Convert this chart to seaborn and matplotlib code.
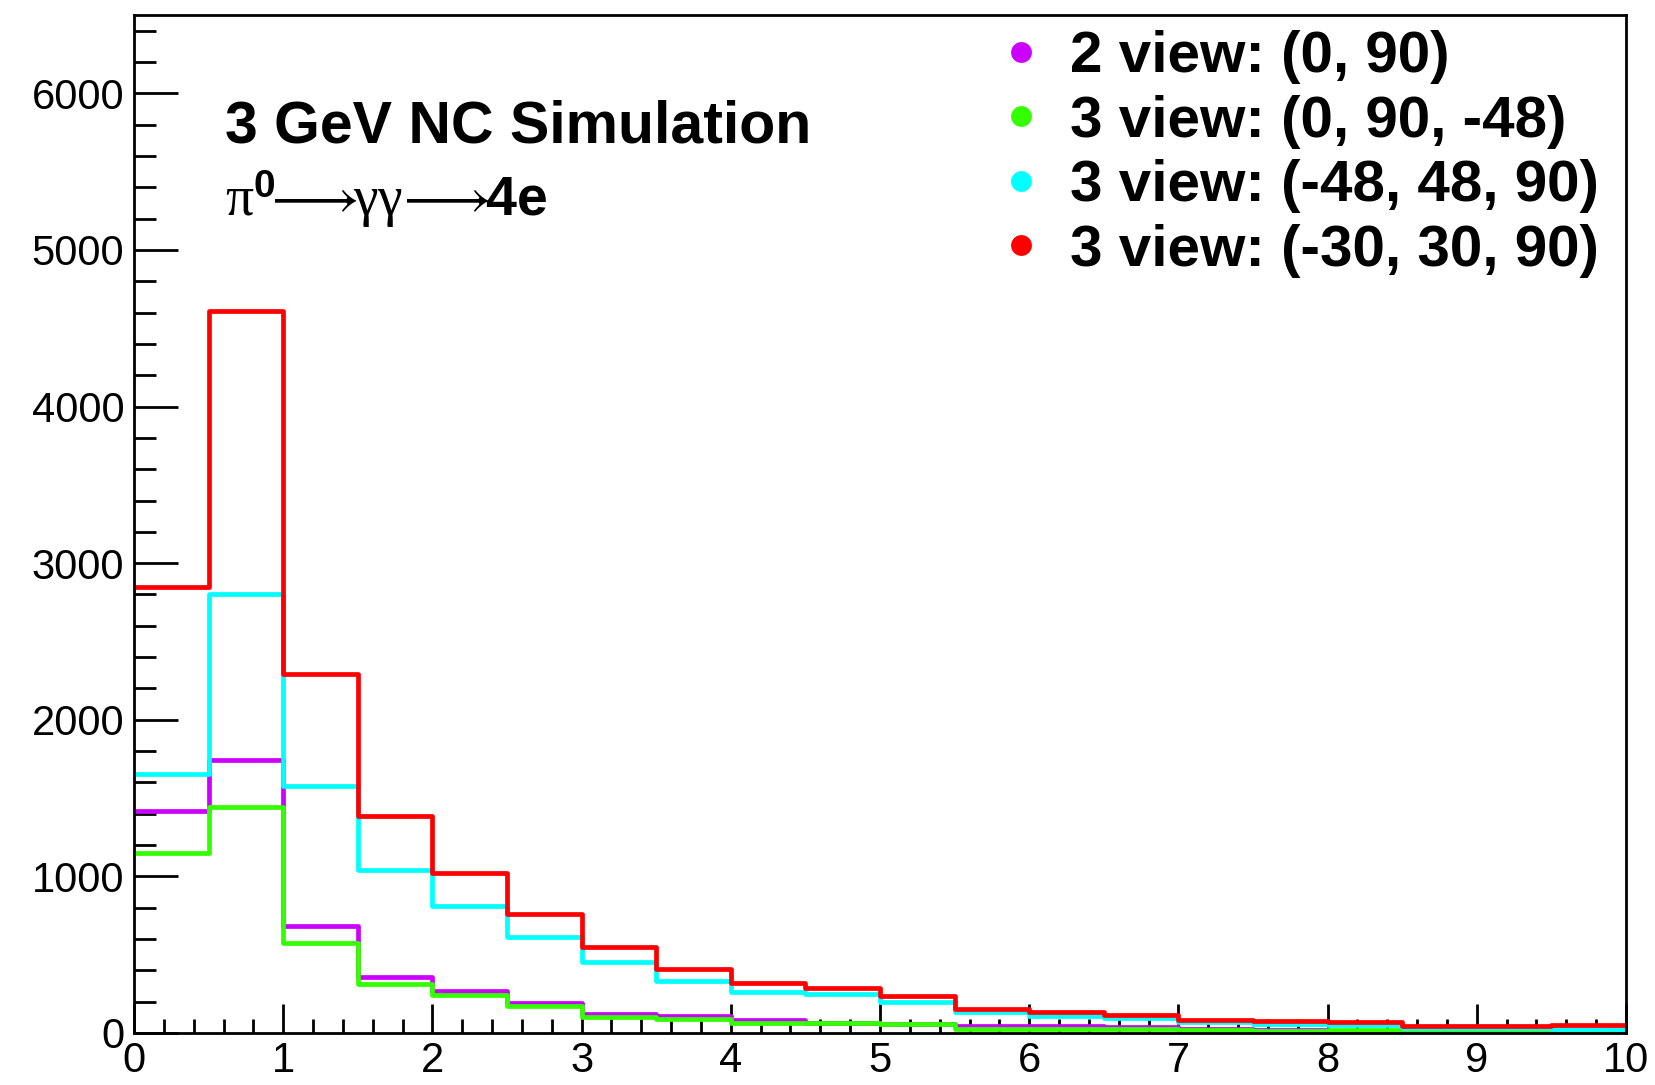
import numpy as np
import pandas as pd
import matplotlib
matplotlib.use('Agg')
import matplotlib.pyplot as plt
import seaborn as sns
from matplotlib.lines import Line2D
from matplotlib.ticker import MultipleLocator

# bin edges 0..10, width 0.5
edges = np.arange(0, 10.5, 0.5)
centers = edges[:-1] + 0.25

two_view_0_90 = [1419, 1743, 682, 358, 266, 192, 124, 107, 83, 66, 60, 45, 45, 37, 25, 20, 15, 12, 10, 8]
three_view_0_90_m48 = [1150, 1440, 575, 316, 241, 171, 100, 88, 62, 62, 58, 28, 26, 24, 20, 15, 18, 6, 6, 13]
three_view_m48_48_90 = [1651, 2803, 1576, 1040, 812, 613, 452, 332, 262, 247, 198, 132, 109, 98, 73, 56, 52, 32, 32, 26]
three_view_m30_30_90 = [2846, 4610, 2290, 1385, 1019, 763, 546, 409, 320, 288, 237, 153, 132, 115, 86, 75, 68, 43, 43, 49]

labels = ['2 view: (0, 90)', '3 view: (0, 90, -48)', '3 view: (-48, 48, 90)', '3 view: (-30, 30, 90)']
series = [two_view_0_90, three_view_0_90_m48, three_view_m48_48_90, three_view_m30_30_90]
colors = ['#cc00ff', '#33ff00', '#00ffff', '#ff0000']

sns.set_style('ticks')
plt.rcParams['font.family'] = ['Liberation Sans', 'DejaVu Sans']
plt.rcParams['text.color'] = 'black'
plt.rcParams['mathtext.fontset'] = 'custom'
plt.rcParams['mathtext.rm'] = 'Liberation Serif'
plt.rcParams['mathtext.it'] = 'Liberation Serif:italic'
plt.rcParams['mathtext.bf'] = 'Liberation Sans:bold'

fig = plt.figure(figsize=(16.56, 10.85), dpi=100)
ax = fig.add_axes([134 / 1656, 52 / 1085, 1492 / 1656, 1018 / 1085])

for vals, c, lab in zip(series, colors, labels):
    df = pd.DataFrame({'x': centers, 'w': vals})
    sns.histplot(data=df, x='x', weights='w', binwidth=0.5, binrange=(0, 10),
                 element='step', fill=False, color=c, linewidth=3.4, ax=ax)

ax.set_xlim(0, 10)
ax.set_ylim(0, 6500)
ax.set_xlabel('')
ax.set_ylabel('')

ax.xaxis.set_major_locator(MultipleLocator(1))
ax.xaxis.set_minor_locator(MultipleLocator(0.2))
ax.yaxis.set_major_locator(MultipleLocator(1000))
ax.yaxis.set_minor_locator(MultipleLocator(200))
ax.tick_params(axis='both', which='both', direction='in', width=2, color='black',
               labelcolor='black', labelsize=30, top=False, right=False)
ax.tick_params(axis='y', which='major', length=32, pad=7)
ax.tick_params(axis='y', which='minor', length=16)
ax.tick_params(axis='x', which='major', length=21, pad=6)
ax.tick_params(axis='x', which='minor', length=10)
for sp in ax.spines.values():
    sp.set_linewidth(2)
    sp.set_color('black')

ax.text(225 / 1656, 1 - 143 / 1085, '3 GeV NC Simulation', transform=fig.transFigure,
        fontsize=42.5, fontweight='bold', va='baseline', ha='left')
ax.text(225 / 1656, 1 - 216 / 1085,
        r'$\mathrm{\pi}^{\mathbf{0}}\!\!\longrightarrow\!\!\mathrm{\gamma\gamma}\!\longrightarrow\!\!\mathbf{4e}$',
        transform=fig.transFigure, fontsize=40, va='baseline', ha='left')

handles = [Line2D([], [], linestyle='none', marker='o', markersize=15, color=c,
                  markeredgewidth=0) for c in colors]
leg = ax.legend(handles, labels, loc='upper left', bbox_to_anchor=(974 / 1656, 1 - 1 / 1085),
                bbox_transform=fig.transFigure, frameon=False, handlelength=0.6,
                handletextpad=0.55, labelspacing=0.18, borderpad=0,
                prop={'size': 42, 'weight': 'bold'})

fig.savefig('out.png', dpi=100, facecolor='white')
